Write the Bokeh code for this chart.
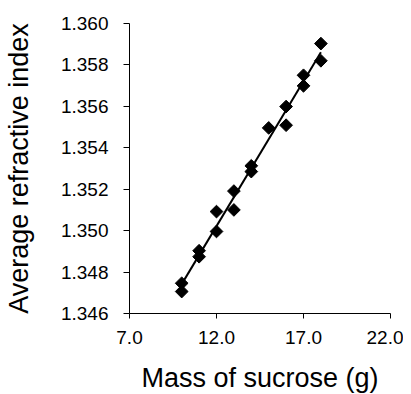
import numpy as np
from bokeh.plotting import figure
from bokeh.models import Range1d, FixedTicker, NumeralTickFormatter, ColumnDataSource
from bokeh.embed import file_html
from bokeh.resources import INLINE

# Data
mass = [10, 10, 11, 11, 12, 12, 13, 13, 14, 14, 15, 16, 16, 17, 17, 18, 18]
refr = [1.34706, 1.34746, 1.34903, 1.34874, 1.35092, 1.34996, 1.35191, 1.35100,
        1.35313, 1.35285, 1.35496, 1.35509, 1.35599, 1.35750, 1.35699, 1.35903, 1.35820]
x_ticks = [7.0, 12.0, 17.0, 22.0]
y_ticks = [1.346, 1.348, 1.350, 1.352, 1.354, 1.356, 1.358, 1.360]

FONT = "Liberation Sans"

p = figure(frame_width=261, frame_height=290, output_backend="svg", toolbar_location=None,
           x_range=Range1d(7.0, 22.0), y_range=Range1d(1.346, 1.360),
           min_border_left=129, min_border_top=23, min_border_right=13, min_border_bottom=60)
p.background_fill_color = "white"
p.border_fill_color = "white"
p.outline_line_color = None
p.xgrid.visible = False
p.ygrid.visible = False

# Trendline (least squares fit of the data)
slope, intercept = np.polyfit(mass, refr, 1)
xl = [min(mass), max(mass)]
yl = [slope * v + intercept for v in xl]
p.line(xl, yl, line_color="black", line_width=2)

src = ColumnDataSource(dict(x=mass, y=refr))
p.scatter("x", "y", source=src, marker="square", size=9, angle=np.pi / 4,
          fill_color="black", line_color="black")

p.xaxis.ticker = FixedTicker(ticks=x_ticks)
p.yaxis.ticker = FixedTicker(ticks=y_ticks)
p.xaxis.formatter = NumeralTickFormatter(format="0.0")
p.yaxis.formatter = NumeralTickFormatter(format="0.000")

for ax in (p.xaxis, p.yaxis):
    ax.axis_line_color = "black"
    ax.axis_line_width = 1
    ax.major_tick_line_color = "black"
    ax.minor_tick_line_color = None
    ax.major_tick_in = 0
    ax.major_label_text_font = FONT
    ax.major_label_text_font_size = "19px"
    ax.major_label_text_color = "black"
    ax.axis_label_text_font = FONT
    ax.axis_label_text_font_size = "27px"
    ax.axis_label_text_font_style = "normal"
    ax.axis_label_text_color = "black"

p.xaxis.major_tick_out = 5
p.yaxis.major_tick_out = 6
p.xaxis.major_label_standoff = 12
p.yaxis.major_label_standoff = 15
p.xaxis.axis_label = "Mass of sucrose (g)"
p.yaxis.axis_label = "Average refractive index"
p.xaxis.axis_label_standoff = 16
p.yaxis.axis_label_standoff = 24

open("out.html", "w").write(file_html(p, INLINE))
